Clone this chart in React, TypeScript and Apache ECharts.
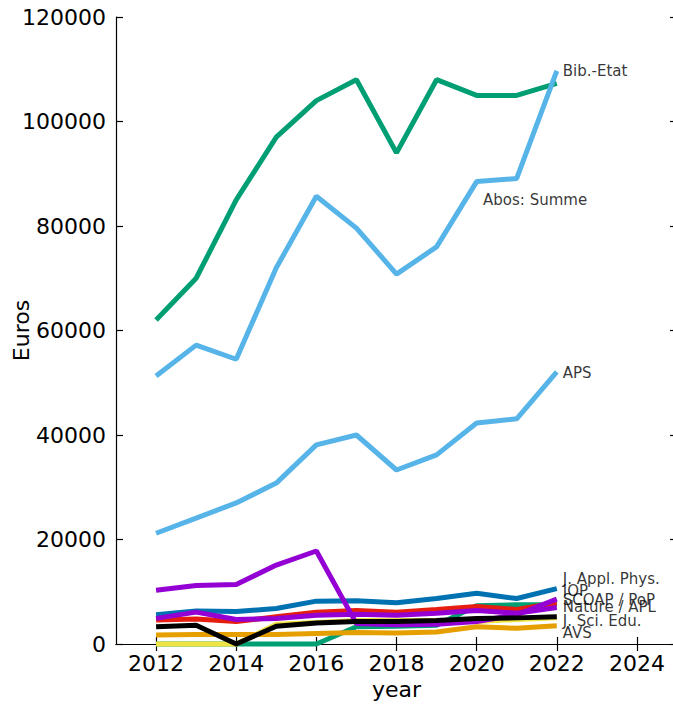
import React, { useEffect, useRef } from "react";
import * as echarts from "echarts";

const years = [2012, 2013, 2014, 2015, 2016, 2017, 2018, 2019, 2020, 2021, 2022];
const xTickValues = [2012, 2014, 2016, 2018, 2020, 2022, 2024];

const bibEtat = [62000, 70000, 85000, 97000, 104000, 108000, 94000, 108000, 105000, 105000, 107300];
const abosSumme = [51300, 57200, 54500, 72000, 85700, 79600, 70800, 76000, 88500, 89100, 109700];
const aps = [21200, 24100, 27000, 30800, 38100, 40000, 33300, 36200, 42300, 43100, 52100];
const greenSmall = [0, 0, 0, 0, 0, 3300, 3400, 3600, 7300, 7500, 7500];
const yellowSmall = [0, 0, 0, 3800, 4100, 4500, 4500, 4500, 4300, 4700, 5000];
const orangeSmall = [1700, 1800, 1800, 1800, 2000, 2200, 2100, 2300, 3300, 3000, 3500];
const blueSmall = [5600, 6300, 6200, 6800, 8200, 8300, 7900, 8700, 9700, 8700, 10600];
const redSmall = [4600, 4800, 4300, 5200, 6100, 6400, 6100, 6600, 7200, 6600, 7900];
const purpleA = [10300, 11200, 11400, 15100, 17800, 3900, 3700, 3800, 4300, 5600, 8600];
const purpleB = [4900, 6100, 4700, 4900, 5500, 5700, 5500, 5900, 6400, 5900, 7000];
const blackSmall = [3300, 3600, 0, 3400, 4000, 4300, 4300, 4500, 4900, 5000, 5200];

const labelTexts = ["Bib.-Etat", "Abos: Summe", "APS", "J. Appl. Phys.", "IOP", "SCOAP / PoP", "Nature / APL", "J. Sci. Edu.", "AVS"];
const labelX = [2022.15, 2020.16, 2022.15, 2022.15, 2022.15, 2022.15, 2022.15, 2022.15, 2022.15];
const labelY = [109660, 84980, 51870, 12440, 10140, 8420, 7080, 4400, 2010];

const FONT = "DejaVu Sans";

function lineSeries(name: string, values: number[], color: string) {
  return {
    type: "line",
    name,
    data: years.map((y, i) => [y, values[i]]),
    symbol: "none",
    clip: false,
    lineStyle: { color, width: 5 },
    z: 2,
  };
}

export default function App() {
  const ref = useRef<HTMLDivElement>(null);
  useEffect(() => {
    if (!ref.current) return;
    const chart = echarts.init(ref.current, undefined, { renderer: "svg" });
    const axisLine = { show: true, lineStyle: { color: "#000", width: 1.2 } };
    const tick = { show: true, inside: true, length: 7, lineStyle: { color: "#000", width: 1.2 } };
    const plain = (v: number) => String(v);
    chart.setOption({
      animation: false,
      backgroundColor: "#fff",
      grid: {
        left: 116,
        right: -4,
        top: 17,
        bottom: 60,
        containLabel: false,
        outerBoundsMode: "none",
      },
      xAxis: [
        {
          type: "value",
          position: "bottom",
          min: 2011,
          max: 2025,
          axisLine,
          axisTick: { ...tick, customValues: xTickValues },
          axisLabel: {
            customValues: xTickValues,
            formatter: plain,
            fontSize: 22,
            color: "#000",
            fontFamily: FONT,
            margin: 8,
          },
          splitLine: { show: false },
          name: "year",
          nameLocation: "middle",
          nameGap: 34,
          nameMoveOverlap: false,
          nameTextStyle: { fontSize: 22, color: "#000", fontFamily: FONT },
        },
        {
          type: "value",
          position: "top",
          min: 2011,
          max: 2025,
          axisLine,
          axisTick: { ...tick, customValues: xTickValues },
          axisLabel: { show: false },
          splitLine: { show: false },
        },
      ],
      yAxis: [
        {
          type: "value",
          position: "left",
          min: 0,
          max: 120000,
          interval: 20000,
          axisLine,
          axisTick: tick,
          axisLabel: { formatter: plain, fontSize: 22, color: "#000", fontFamily: FONT, margin: 10 },
          splitLine: { show: false },
          name: "Euros",
          nameLocation: "middle",
          nameGap: 84,
          nameRotate: 90,
          nameMoveOverlap: false,
          nameTextStyle: { fontSize: 22, color: "#000", fontFamily: FONT },
        },
        {
          type: "value",
          position: "right",
          min: 0,
          max: 120000,
          interval: 20000,
          axisLine,
          axisTick: tick,
          axisLabel: { show: false },
          splitLine: { show: false },
        },
      ],
      series: [
        lineSeries("Bib.-Etat", bibEtat, "#009E73"),
        lineSeries("Abos: Summe", abosSumme, "#56B4E9"),
        lineSeries("APS", aps, "#56B4E9"),
        lineSeries("green small", greenSmall, "#009E73"),
        lineSeries("yellow small", yellowSmall, "#F0E442"),
        lineSeries("orange small", orangeSmall, "#E69F00"),
        lineSeries("blue small", blueSmall, "#0072B2"),
        lineSeries("red small", redSmall, "#E51E10"),
        lineSeries("purple A", purpleA, "#9400D3"),
        lineSeries("purple B", purpleB, "#9400D3"),
        lineSeries("black small", blackSmall, "#000000"),
        {
          type: "scatter",
          name: "labels",
          symbolSize: 0,
          clip: false,
          z: 5,
          data: labelTexts.map((t, i) => [labelX[i], labelY[i], t]),
          label: {
            show: true,
            position: "right",
            distance: 0,
            formatter: (p: any) => p.data[2],
            fontSize: 15,
            color: "#000",
            fontFamily: FONT,
          },
          emphasis: { disabled: true },
          silent: true,
        },
      ],
    });
    return () => chart.dispose();
  }, []);
  return (
    <div
      ref={ref}
      style={{ position: "absolute", left: 0, top: 0, width: 673, height: 704 }}
    />
  );
}
